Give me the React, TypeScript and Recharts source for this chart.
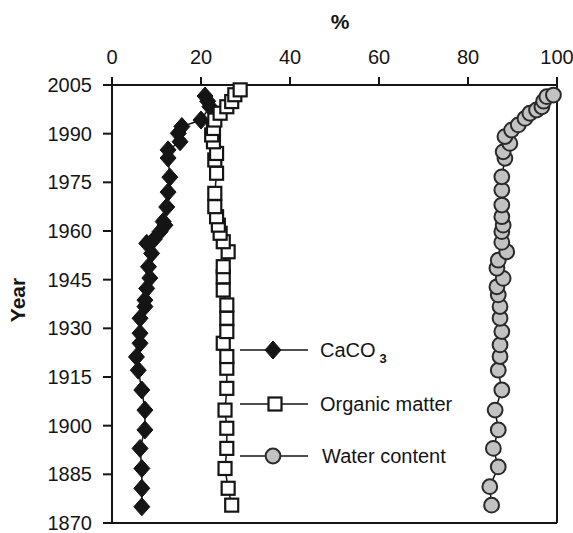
import { ScatterChart, Scatter, XAxis, YAxis, ReferenceLine, Customized } from "recharts";

// axis ticks
const pctTicks = [0, 20, 40, 60, 80, 100];
const yearTicks = [1870, 1885, 1900, 1915, 1930, 1945, 1960, 1975, 1990, 2005];

// CaCO3 (%) by year, oldest first
const caco3Years = [
  1875.0, 1880.7, 1886.8, 1893.0, 1898.7, 1904.8, 1911.0, 1917.1, 1921.2, 1925.4, 1928.5, 1933.1,
  1936.7, 1938.7, 1942.3, 1945.5, 1949.0, 1953.1, 1956.2, 1957.5, 1959.8, 1961.8, 1962.9, 1967.4,
  1972.0, 1976.6, 1982.5, 1985.0, 1987.5, 1990.1, 1992.2, 1994.2, 1998.3, 2000.0, 2001.6,
];
const caco3Values = [
  6.7, 6.7, 6.7, 6.3, 7.4, 7.4, 6.7, 5.9, 5.5, 6.3, 6.3, 6.3,
  7.4, 7.4, 7.8, 8.5, 8.2, 8.9, 7.8, 9.5, 10.8, 11.9, 11.5, 12.3,
  12.6, 13.0, 12.6, 12.6, 15.3, 14.9, 15.7, 20.0, 22.0, 21.5, 20.9,
];

// organic matter (%) by year
const organicYears = [
  1875.5, 1880.7, 1886.8, 1893.0, 1899.2, 1904.8, 1911.5, 1917.7, 1921.3, 1925.4, 1929.0, 1933.1,
  1937.2, 1941.8, 1945.9, 1949.0, 1953.6, 1956.7, 1959.3, 1961.8, 1964.4, 1967.5, 1971.6, 1977.8,
  1981.9, 1983.9, 1987.5, 1989.6, 1991.6, 1994.2, 1996.3, 1998.3, 1999.9, 2002.0, 2003.5,
];
const organicValues = [
  26.9, 26.1, 25.4, 25.8, 25.8, 25.4, 25.8, 25.8, 25.8, 25.0, 25.8, 25.8,
  25.8, 25.0, 25.0, 25.0, 26.1, 25.0, 24.3, 23.9, 23.5, 23.1, 23.1, 23.5,
  23.1, 23.5, 22.8, 22.4, 22.8, 23.1, 24.3, 25.8, 26.9, 27.6, 28.8,
];

// water content (%) by year
const waterYears = [
  1875.5, 1881.2, 1887.3, 1893.0, 1898.7, 1904.8, 1911.0, 1917.1, 1921.3, 1924.9, 1929.0, 1933.1,
  1936.7, 1940.3, 1942.8, 1945.4, 1948.5, 1951.0, 1953.6, 1956.5, 1959.8, 1961.8, 1964.4, 1968.0,
  1972.6, 1976.7, 1982.4, 1984.4, 1987.0, 1989.1, 1991.1, 1992.7, 1994.7, 1996.3, 1997.3, 1998.3,
  2000.0, 2001.4, 2001.9,
];
const waterValues = [
  85.3, 84.9, 86.8, 85.7, 86.8, 86.1, 87.6, 86.8, 87.2, 87.2, 87.6, 87.2,
  87.2, 86.8, 86.5, 87.9, 86.5, 86.8, 88.7, 87.6, 87.6, 87.9, 87.6, 87.6,
  87.6, 87.6, 88.3, 87.9, 89.4, 88.3, 89.8, 91.3, 92.8, 93.9, 95.4, 96.6,
  97.0, 97.7, 99.2,
];

const toPoints = (years: number[], values: number[]) =>
  years.map((year, i) => ({ year, pct: values[i] }));

const caco3 = toPoints(caco3Years, caco3Values);
const organic = toPoints(organicYears, organicValues);
const water = toPoints(waterYears, waterValues);

const INK = "#151515";
const FONT = "'Liberation Sans', Arial, sans-serif";

const DiamondMark = ({ cx, cy }: any) => (
  <polygon
    points={`${cx},${cy - 9} ${cx + 8},${cy} ${cx},${cy + 9} ${cx - 8},${cy}`}
    fill={INK}
    stroke={INK}
    strokeWidth={1}
  />
);

const SquareMark = ({ cx, cy }: any) => (
  <rect x={cx - 6.5} y={cy - 6.5} width={13} height={13} fill="#fff" stroke={INK} strokeWidth={2.2} />
);

const CircleMark = ({ cx, cy }: any) => (
  <circle cx={cx} cy={cy} r={7.4} fill="#c2c2c2" stroke="#2a2a2a" strokeWidth={2} />
);

// titles and the in-plot key
const Annotations = () => (
  <g fontFamily={FONT} fill={INK}>
    <text x={340} y={29} textAnchor="middle" fontSize={21} fontWeight="bold">%</text>
    <text x={25} y={300} textAnchor="middle" fontSize={21} fontWeight="bold" transform="rotate(-90, 25, 300)">
      Year
    </text>

    <line x1={240} y1={350} x2={308} y2={350} stroke={INK} strokeWidth={1.5} />
    <DiamondMark cx={273} cy={350} />
    <text x={320} y={357} fontSize={20}>
      CaCO
      <tspan dx={4} dy={6} fontSize={13} fontWeight="bold">3</tspan>
    </text>

    <line x1={240} y1={404} x2={308} y2={404} stroke={INK} strokeWidth={1.5} />
    <SquareMark cx={275} cy={404} />
    <text x={320} y={411} fontSize={20}>Organic matter</text>

    <line x1={240} y1={456} x2={308} y2={456} stroke={INK} strokeWidth={1.5} />
    <CircleMark cx={273} cy={456} />
    <text x={322} y={463} fontSize={20}>Water content</text>
  </g>
);

export default function App() {
  const axisStroke = { stroke: INK, strokeWidth: 2 };
  const tickStyle = { fill: INK, fontSize: 20, fontFamily: FONT };
  const lineStyle = { stroke: INK, strokeWidth: 1.5 };

  return (
    <div style={{ position: "absolute", left: 0, top: 0, fontFamily: FONT, background: "#fff" }}>
      <ScatterChart width={573} height={533} margin={{ top: 0, right: 16, bottom: 10, left: 0 }}>
        <XAxis
          type="number"
          dataKey="pct"
          orientation="top"
          domain={[0, 100]}
          ticks={pctTicks}
          interval={0}
          height={85}
          tickSize={8}
          tickMargin={13}
          axisLine={axisStroke}
          tickLine={axisStroke}
          tick={tickStyle}
        />
        <YAxis
          type="number"
          dataKey="year"
          domain={[1870, 2005]}
          ticks={yearTicks}
          interval={0}
          width={112}
          tickSize={9}
          tickMargin={11}
          axisLine={axisStroke}
          tickLine={axisStroke}
          tick={tickStyle}
        />
        <ReferenceLine x={100} stroke={INK} strokeWidth={2} ifOverflow="visible" />
        <ReferenceLine y={1870} stroke={INK} strokeWidth={2} ifOverflow="visible" />
        <Scatter name="CaCO3" data={caco3} shape={DiamondMark} line={lineStyle} isAnimationActive={false} />
        <Scatter name="Organic matter" data={organic} shape={SquareMark} line={lineStyle} isAnimationActive={false} />
        <Scatter name="Water content" data={water} shape={CircleMark} line={lineStyle} isAnimationActive={false} />
        <Customized component={Annotations} />
      </ScatterChart>
    </div>
  );
}
